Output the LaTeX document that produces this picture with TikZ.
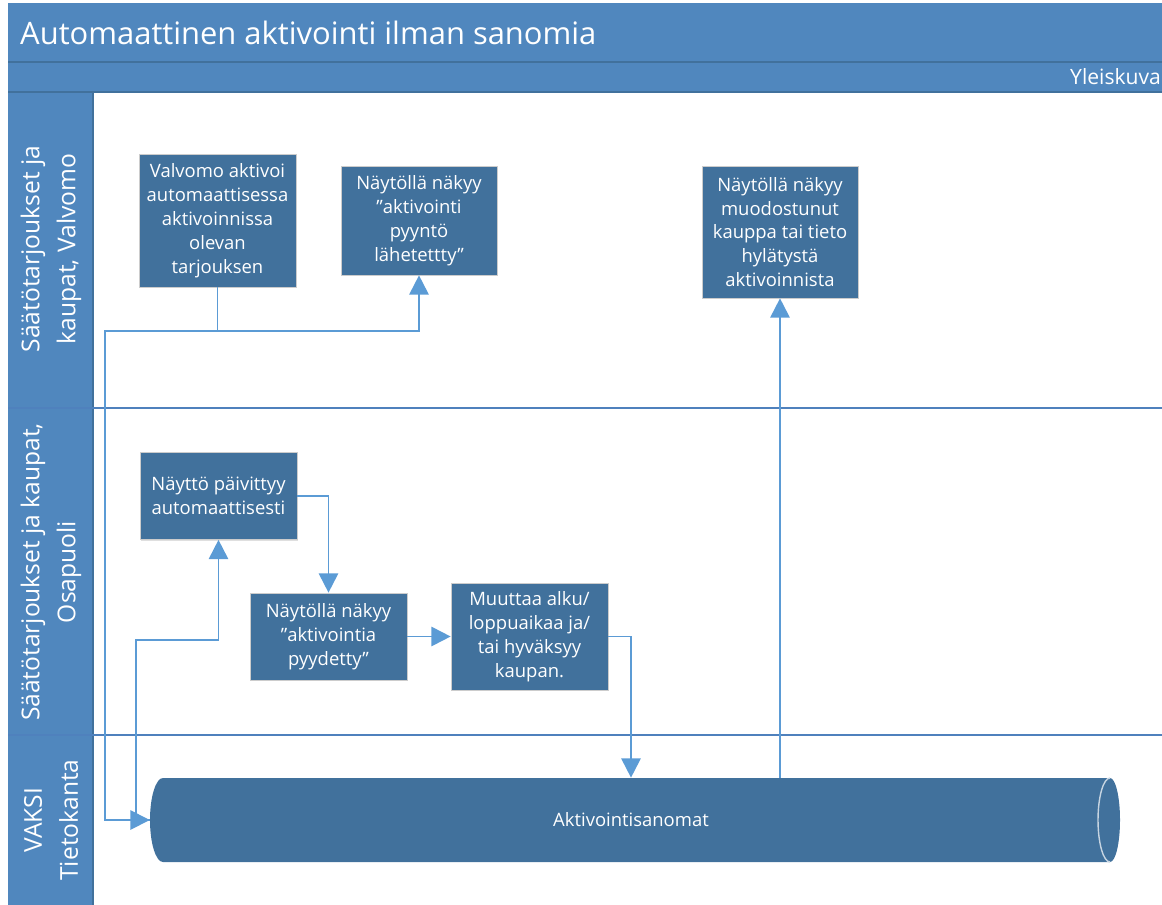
\documentclass[tikz,border=0pt]{standalone}
\usepackage{fontspec}
\setmainfont{Open Sans}
\usetikzlibrary{arrows.meta,positioning,shadows}

\definecolor{hdrblue}{HTML}{5087BE}
\definecolor{hdrline}{HTML}{41719C}
\definecolor{boxfill}{HTML}{41719C}
\definecolor{laneline}{HTML}{4F81BD}
\definecolor{connblue}{HTML}{5B9BD5}

\tikzset{
  procbox/.style={rectangle, fill=boxfill, draw=black!20, line width=0.4pt,
    text=white, align=center, inner sep=2pt,
    font=\fontsize{10.5}{13.6}\selectfont,
    drop shadow={shadow xshift=0.8pt, shadow yshift=-0.8pt, opacity=0.25}},
  lanetext/.style={rotate=90, text=white, align=center,
    font=\fontsize{14}{20.5}\selectfont},
  conn/.style={draw=connblue, line width=1.1pt,
    -{Triangle[length=11pt,width=11pt]}},
  plain conn/.style={draw=connblue, line width=1.1pt}
}

\begin{document}
\begin{tikzpicture}[x=0.02cm,y=-0.02cm]
  %%%%% START %%%%%
  \useasboundingbox (0,0) rectangle (1162,905);
  \begin{scope}
    \clip (0,0) rectangle (1162,905);

    % pool header and lane headers
    \fill[hdrblue] (8,3) rectangle (1175,92);
    \fill[hdrblue] (8,92) rectangle (93,910);
    \draw[hdrline, line width=0.8pt] (8,62) -- (1175,62);
    \draw[hdrline, line width=0.8pt] (8,92) -- (1175,92);
    \draw[hdrline, line width=0.6pt] (93,92) -- (93,910);
    \draw[laneline, line width=0.7pt] (8,408) -- (1175,408);
    \draw[laneline, line width=0.7pt] (8,735) -- (1175,735);

    \node[anchor=west, text=white, font=\fontsize{17.6}{22}\selectfont] (title) at (14,33) {Automaattinen aktivointi ilman sanomia};
    \node[anchor=west, text=white, font=\fontsize{12}{14}\selectfont] (view) at (1064,77) {Yleiskuva};

    \node[lanetext] (lane1) at (51,249) {Säätötarjoukset ja\\kaupat, Valvomo};
    \node[lanetext] (lane2) at (51,572) {Säätötarjoukset ja kaupat,\\Osapuoli};
    \node[lanetext] (lane3) at (51,820) {VAKSI\\Tietokanta};

    % database
    \fill[boxfill] (163,778) -- (1110,778) arc[start angle=-90, end angle=90, x radius=10, y radius=42]
      -- (163,862) arc[start angle=90, end angle=270, x radius=13, y radius=42] -- cycle;
    \draw[white!70!boxfill, line width=0.8pt] (1110,778) arc[start angle=-90, end angle=-270, x radius=12, y radius=42];
    \node[text=white, inner sep=0pt, minimum width=19.24cm, minimum height=1.68cm,
      font=\fontsize{10.5}{13.6}\selectfont] (cyl) at (631,820) {Aktivointisanomat};

    % steps
    \node[procbox, minimum width=3.14cm, minimum height=2.66cm] (valvomo) at (217.5,220.5) {Valvomo aktivoi\\automaattisessa\\aktivoinnissa\\olevan\\tarjouksen};
    \node[procbox, minimum width=3.12cm, minimum height=2.18cm] (sent) at (419,220.5) {Näytöllä näkyy\\”aktivointi\\pyyntö\\lähetettty”};
    \node[procbox, minimum width=3.12cm, minimum height=2.64cm] (result) at (780,232) {Näytöllä näkyy\\muodostunut\\kauppa tai tieto\\hylätystä\\aktivoinnista};
    \node[procbox, minimum width=3.14cm, minimum height=1.74cm] (update) at (218.5,496) {Näyttö päivittyy\\automaattisesti};
    \node[procbox, minimum width=3.14cm, minimum height=1.74cm] (asked) at (328.5,636.5) {Näytöllä näkyy\\”aktivointia\\pyydetty”};
    \node[procbox, minimum width=3.14cm, minimum height=2.14cm] (accept) at (529.5,636.5) {Muuttaa alku/\\loppuaikaa ja/\\tai hyväksyy\\kaupan.};

    % connectors
    \coordinate (busA) at (105,331);
    \coordinate (busC) at (136,640);
    \draw[conn] (valvomo.south) -- (valvomo.south |- busA) -| (sent.south);
    \draw[conn] (valvomo.south |- busA) -- (busA) |- (cyl.west);
    \draw[conn] (cyl.west) -| (busC) -| (update.south);
    \draw[conn] (update.east) -| (asked.north);
    \draw[conn] (asked.east) -- (accept.west);
    \draw[conn] (accept.east) -| (cyl.north);
    \draw[conn] (cyl.north -| result.south) -- (result.south);
  \end{scope}
  %%%%% END %%%%%
\end{tikzpicture}
\end{document}
